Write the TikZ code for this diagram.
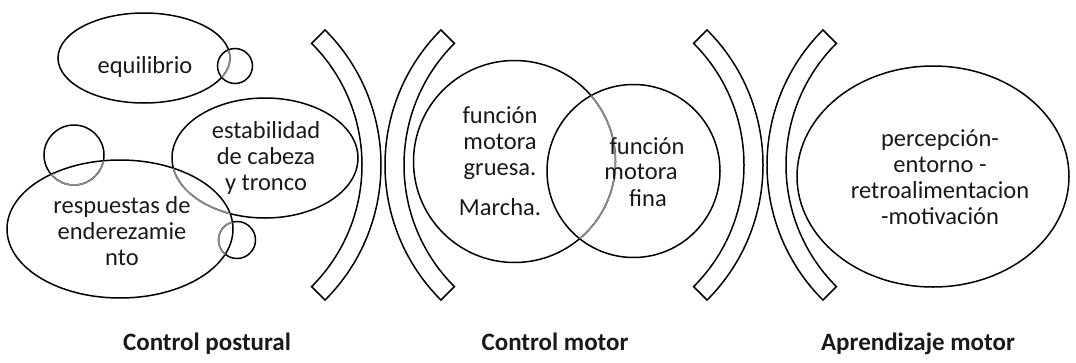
\documentclass[tikz,border=0pt]{standalone}
\usepackage{fontspec}
\setmainfont{Carlito}
\usetikzlibrary{calc}
\definecolor{ovl}{RGB}{140,140,140}
\definecolor{ink}{RGB}{25,25,25}
\tikzset{
  outline/.style={draw=black, line width=1.5pt},
  faded/.style={draw=ovl, line width=1.5pt},
  lbl/.style={inner sep=0pt, align=center, text=ink, font=\fontsize{24.5}{26}\selectfont},
  caption/.style={inner sep=0pt, anchor=base, text=ink, font=\fontsize{25}{28}\selectfont\bfseries}
}
% shape paths
\def\pEq{(144,58) ellipse [x radius=86, y radius=45]}
\def\pEqC{(235,66) circle [radius=17.5]}
\def\pEst{(265,158) ellipse [x radius=93, y radius=60]}
\def\pTl{(74,155) circle [radius=30]}
\def\pRes{(120,229) ellipse [x radius=113, y radius=69]}
\def\pBc{(237,240) circle [radius=18.5]}
\def\pGr{(514.5,161.5) circle [radius=101]}
\def\pFi{(633.5,171) circle [radius=86.5]}
\def\pAp{(933,176.5) ellipse [x radius=136, y radius=110.5]}
% curved band: centre, start angle, end angle
\newcommand\band[3]{%
  \draw[outline, line join=miter] ($(#1)+(#2:172)$) arc[start angle=#2, end angle=#3, radius=172]
    -- ($(#1)+(#3:191)$) arc[start angle=#3, end angle=#2, radius=191] -- cycle;}
\begin{document}
\begin{tikzpicture}[x=1pt,y=-1pt]
\useasboundingbox (0,0) rectangle (1076,362);

% Control postural
\draw[outline] \pEq;
\draw[outline] \pEqC;
\begin{scope}\clip \pEqC; \draw[faded] \pEq; \end{scope}
\draw[outline] \pEst;
\draw[outline] \pTl;
\draw[outline] \pRes;
\draw[outline] \pBc;
\begin{scope}\clip \pRes;
  \draw[faded] \pTl;
  \draw[faded] \pEst;
  \draw[faded] \pBc;
\end{scope}

% Control motor
\draw[outline] \pGr;
\draw[outline] \pFi;
\begin{scope}\clip \pFi; \draw[faded] \pGr; \end{scope}

% Aprendizaje motor
\draw[outline] \pAp;

% separating bands
\coordinate (b1) at (190,165);
\coordinate (b2) at (576,165);
\coordinate (b3) at (572,165);
\coordinate (b4) at (958,165);
\band{b1}{-45}{45}
\band{b2}{135}{225}
\band{b3}{-45}{45}
\band{b4}{135}{225}

% labels
\node[lbl] (equilibrio) at (145,67) {equilibrio};
\node[lbl] (estabilidad) at (266,158) {estabilidad\\de cabeza\\y tronco};
\node[lbl] (respuestas) at (122,231) {respuestas de\\enderezamie\\nto};
\node[lbl] (gruesa) at (500,143) {función\\motora\\gruesa.};
\node[lbl] (marcha) at (500,207) {Marcha.};
\node[lbl] (fina1) at (647,146) {función};
\node[lbl] (fina2) at (641,172) {motora};
\node[lbl] (fina3) at (648,198) {fina};
\node[lbl] (percepcion) at (940,177) {percepción-\\entorno -\\retroalimentacion\\-motivación};

\node[caption] (cpost) at (207,350) {Control postural};
\node[caption] (cmot) at (555,350) {Control motor};
\node[caption] (apre) at (918,350) {Aprendizaje motor};
\end{tikzpicture}
\end{document}
